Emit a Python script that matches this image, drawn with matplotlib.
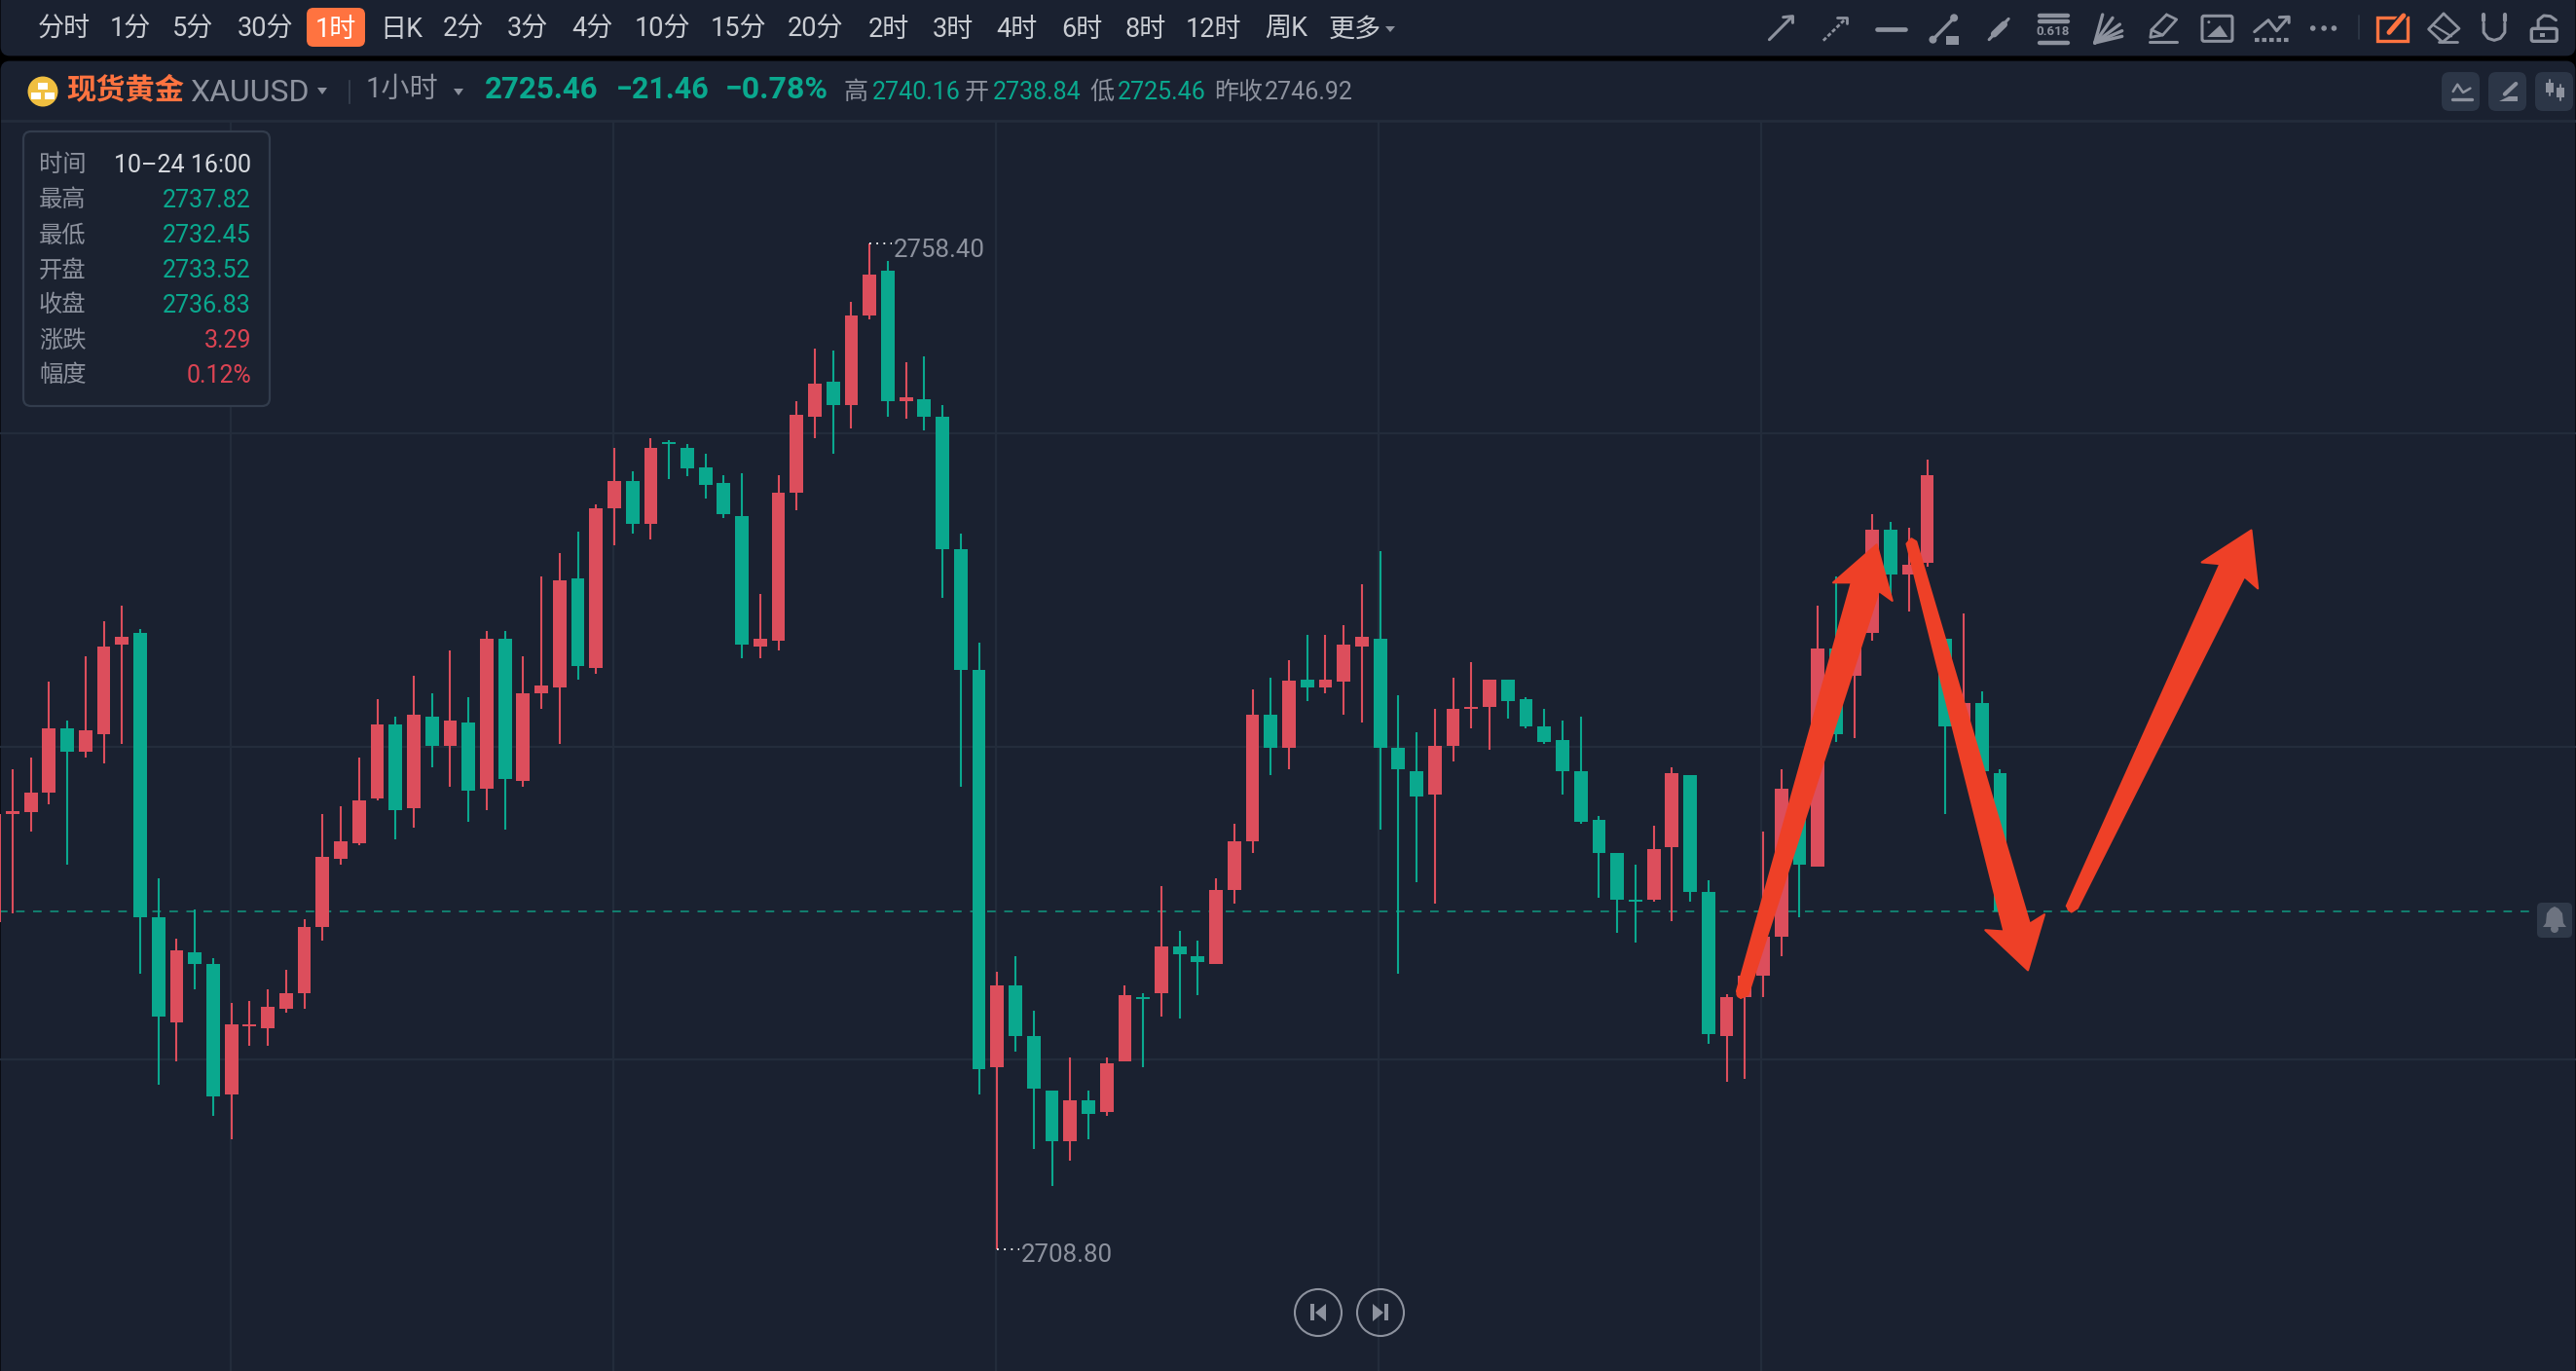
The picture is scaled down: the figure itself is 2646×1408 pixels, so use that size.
import matplotlib
matplotlib.use('Agg')
import matplotlib.pyplot as plt
from matplotlib.patches import Polygon, Circle, Rectangle, FancyBboxPatch

plt.rcParams['font.family'] = ['Roboto', 'Noto Sans CJK SC', 'DejaVu Sans']

# 小时K线数据
opens = [2724.92, 2730.27, 2730.36, 2731.31, 2734.48, 2733.34, 2734.20, 2738.62, 2739.17, 2725.17,
         2719.99, 2723.45, 2722.87, 2716.45, 2719.80, 2719.71, 2720.66, 2721.43, 2724.69, 2728.06,
         2728.82, 2731.03, 2734.69, 2730.55, 2735.06, 2733.62, 2734.78, 2731.50, 2738.89, 2731.89,
         2736.22, 2736.50, 2741.87, 2737.45, 2745.34, 2746.66, 2744.57, 2748.59, 2748.32, 2747.35,
         2746.58, 2744.94, 2738.52, 2738.80, 2746.10, 2749.83, 2751.56, 2750.40, 2754.84, 2757.02,
         2750.60, 2750.69, 2749.83, 2743.30, 2737.36, 2717.79, 2721.81, 2719.33, 2716.63, 2714.13,
         2716.15, 2715.57, 2718.08, 2721.23, 2721.42, 2723.73, 2723.25, 2722.87, 2726.53, 2728.91,
         2735.14, 2733.52, 2736.88, 2736.49, 2736.78, 2738.51, 2738.89, 2733.52, 2732.37, 2731.22,
         2733.62, 2735.44, 2735.53, 2736.88, 2735.92, 2734.58, 2733.90, 2732.37, 2729.97, 2728.34,
         2726.03, 2726.03, 2728.63, 2732.18, 2726.41, 2719.32, 2721.23, 2722.29, 2724.21, 2731.51,
         2727.66, 2738.42, 2737.07, 2739.19, 2744.26, 2742.06, 2742.64, 2738.90, 2733.80, 2735.73,
         2732.28]
highs = [2730.27, 2732.48, 2733.03, 2736.78, 2734.87, 2738.03, 2739.75, 2740.52, 2739.38, 2727.10,
         2724.13, 2725.57, 2723.15, 2720.94, 2721.06, 2721.62, 2722.59, 2725.08, 2730.27, 2730.64,
         2733.03, 2735.92, 2735.06, 2737.08, 2736.22, 2738.31, 2736.01, 2739.29, 2739.29, 2738.03,
         2741.96, 2743.13, 2744.17, 2745.52, 2748.29, 2747.15, 2748.78, 2748.69, 2748.51, 2748.03,
         2746.97, 2747.06, 2741.12, 2746.97, 2750.60, 2753.20, 2753.10, 2755.51, 2758.40, 2757.51,
         2752.53, 2752.81, 2750.40, 2744.07, 2738.71, 2722.48, 2723.25, 2720.55, 2716.63, 2718.27,
         2716.63, 2718.27, 2721.81, 2721.42, 2726.72, 2724.50, 2724.02, 2727.11, 2729.77, 2736.39,
         2736.97, 2737.82, 2739.09, 2739.09, 2739.58, 2741.58, 2743.21, 2736.11, 2734.29, 2735.44,
         2736.97, 2737.74, 2736.88, 2736.88, 2736.01, 2735.44, 2734.86, 2735.06, 2730.16, 2728.34,
         2727.76, 2729.68, 2732.56, 2732.18, 2726.99, 2721.36, 2722.29, 2729.39, 2732.47, 2732.13,
         2740.52, 2741.98, 2742.12, 2745.03, 2744.66, 2744.37, 2747.72, 2738.90, 2740.15, 2736.30,
         2732.47]
lows = [2724.92, 2725.38, 2729.41, 2730.73, 2727.75, 2733.03, 2732.75, 2733.71, 2722.38, 2716.92,
        2718.08, 2721.62, 2715.38, 2714.24, 2718.85, 2718.85, 2720.48, 2720.66, 2724.03, 2727.75,
        2728.73, 2730.94, 2729.01, 2729.59, 2732.57, 2731.59, 2729.87, 2730.45, 2729.50, 2731.59,
        2735.45, 2733.71, 2736.87, 2737.17, 2743.50, 2744.08, 2743.80, 2746.75, 2746.90, 2745.81,
        2744.85, 2737.94, 2737.94, 2738.32, 2745.23, 2748.80, 2748.03, 2749.25, 2754.65, 2749.83,
        2749.73, 2749.15, 2740.93, 2731.61, 2716.44, 2708.80, 2718.56, 2713.74, 2711.94, 2713.16,
        2714.22, 2715.38, 2718.08, 2717.79, 2720.26, 2720.20, 2721.32, 2722.87, 2725.85, 2728.33,
        2732.19, 2732.45, 2735.82, 2736.20, 2735.14, 2734.77, 2729.49, 2722.39, 2726.90, 2725.84,
        2732.85, 2734.48, 2733.42, 2734.96, 2734.48, 2733.71, 2731.22, 2729.78, 2726.13, 2724.40,
        2723.92, 2725.94, 2724.98, 2725.94, 2718.94, 2717.05, 2717.22, 2721.23, 2723.25, 2725.18,
        2727.66, 2733.80, 2734.01, 2738.79, 2741.08, 2740.25, 2742.45, 2730.26, 2733.38, 2732.36,
        2725.27]
closes = [2730.27, 2730.41, 2731.31, 2734.48, 2733.34, 2734.38, 2738.52, 2738.99, 2725.17, 2720.29,
          2723.55, 2722.87, 2716.34, 2719.89, 2719.89, 2720.75, 2721.43, 2724.69, 2728.15, 2728.92,
          2730.94, 2734.69, 2730.45, 2735.15, 2733.62, 2734.87, 2731.41, 2738.89, 2731.99, 2736.22,
          2736.59, 2741.78, 2737.55, 2745.34, 2746.66, 2744.57, 2748.29, 2748.50, 2747.29, 2746.48,
          2745.04, 2738.61, 2738.90, 2746.10, 2749.92, 2751.47, 2750.40, 2754.84, 2756.83, 2750.60,
          2750.79, 2749.83, 2743.30, 2737.36, 2717.69, 2721.81, 2719.33, 2716.73, 2714.13, 2716.15,
          2715.48, 2717.98, 2721.32, 2721.13, 2723.73, 2723.35, 2722.96, 2726.53, 2728.91, 2735.14,
          2733.53, 2736.83, 2736.49, 2736.88, 2738.61, 2738.99, 2733.52, 2732.46, 2731.12, 2733.62,
          2735.44, 2735.53, 2736.88, 2735.82, 2734.58, 2733.81, 2732.37, 2729.87, 2728.34, 2726.03,
          2725.94, 2728.53, 2732.27, 2726.42, 2719.42, 2721.23, 2722.29, 2724.21, 2731.51, 2727.76,
          2738.42, 2734.21, 2739.00, 2744.26, 2742.06, 2742.54, 2746.95, 2734.57, 2735.73, 2732.36,
          2725.46]

grid_prices = [2749.00, 2733.57, 2718.17]
grid_candles = [12.97, 33.95, 54.93, 75.91, 96.89]
last_price = 2725.46

periods = ['分时', '1分', '5分', '30分', '1时', '日K', '2分', '3分', '4分', '10分', '15分', '20分',
           '2时', '3时', '4时', '6时', '8时', '12时', '周K', '更多']
period_x = [66, 134, 198, 273, 345, 412, 476, 542, 608, 680, 758, 838,
            913, 979, 1045, 1111, 1177, 1247, 1321, 1392]

tip_labels = ['时间', '最高', '最低', '开盘', '收盘', '涨跌', '幅度']
tip_values = ['10–24 16:00', '2737.82', '2732.45', '2733.52', '2736.83', '3.29', '0.12%']

W, H = 2646, 1408
BG = '#1a2130'
GRID = '#232c3b'
RED = '#dc4e5c'
GREEN = '#0aa88e'
GRAY = '#8d929e'
ORANGE = '#ff7340'
ARROW = '#ee4027'

fig = plt.figure(figsize=(W / 100, H / 100), dpi=100, facecolor='black')

def pixel_axes(zorder):
    a = fig.add_axes([0, 0, 1, 1], zorder=zorder)
    a.set_xlim(0, W)
    a.set_ylim(H, 0)
    a.axis('off')
    a.patch.set_alpha(0)
    return a

ui = pixel_axes(1)
top = pixel_axes(3)

# 背景面板
ui.add_patch(FancyBboxPatch((2, -20), W - 4, 76, boxstyle='round,pad=0,rounding_size=8', fc=BG, ec=BG, lw=2))
ui.add_patch(FancyBboxPatch((2, 64), W - 4, H, boxstyle='round,pad=0,rounding_size=8', fc=BG, ec=BG, lw=2))
ui.plot([2, W], [124, 124], color=GRID, lw=2)

# ========== K线 ==========
chart_top = 125
ax = fig.add_axes([0, 0, 1, (H - chart_top) / H], zorder=2)
ax.patch.set_alpha(0)
ax.axis('off')
ax.set_xlim(5.83 / 18.73, (W + 5.83) / 18.73)
ax.set_ylim(2725.46 + (936 - H) / 20.84, 2725.46 + (936 - chart_top) / 20.84)

for p in grid_prices:
    ax.axhline(p, color=GRID, lw=1.6, zorder=1)
for c in grid_candles:
    ax.axvline(c, color=GRID, lw=1.6, zorder=1)
ax.plot([0, 141], [last_price, last_price], color='#12806f', lw=1.4, dashes=(4.5, 4.5), zorder=1.5)

idx = list(range(len(opens)))
colors = [GREEN if closes[i] < opens[i] else RED for i in idx]
ax.vlines(idx, lows, highs, colors=colors, lw=1.5, zorder=2)
ax.bar(idx, [abs(closes[i] - opens[i]) for i in idx], bottom=[min(opens[i], closes[i]) for i in idx],
       width=0.737, color=colors, lw=0, zorder=3)

# 最高最低标注
ax.plot([48, 49.2], [2758.40, 2758.40], color='white', lw=1.3, dashes=(1, 3), zorder=4)
ax.text(49.34, 2758.03, '2758.40', color=GRAY, fontsize=18.6, va='center', ha='left')
ax.plot([55, 56.2], [2708.80, 2708.80], color='white', lw=1.3, dashes=(1, 3), zorder=4)
ax.text(56.3, 2708.50, '2708.80', color=GRAY, fontsize=18.6, va='center', ha='left')

# ========== 顶部工具栏 ==========
ui.add_patch(FancyBboxPatch((315, 8), 60, 40, boxstyle='round,pad=0,rounding_size=7', fc=ORANGE, ec='none'))
for label, x in zip(periods, period_x):
    c = 'white' if label == '1时' else '#c9ccd2'
    ui.text(x, 30, label, color=c, fontsize=19.5, ha='center', va='center')
ui.add_patch(Polygon([(1423, 27), (1433, 27), (1428, 33)], fc=GRAY, ec='none'))

# ========== 行情标题 ==========
ui.add_patch(Circle((44, 94), 15.5, fc='#f0bf40', ec='none'))
for (bx, by) in [(44, 88), (37, 98), (51, 98)]:
    ui.add_patch(Rectangle((bx - 5, by - 3.5), 10, 7, fc='white', ec='none'))
ui.text(68, 93, '现货黄金', color=ORANGE, fontsize=21.8, weight='bold', ha='left', va='center')
ui.text(195, 95, 'XAUUSD', color=GRAY, fontsize=23, ha='left', va='center')
ui.add_patch(Polygon([(326, 90), (336, 90), (331, 97)], fc=GRAY, ec='none'))
ui.plot([359, 359], [83, 106], color='#3a4352', lw=1.2)
ui.text(376, 92, '1小时', color=GRAY, fontsize=21, ha='left', va='center')
ui.add_patch(Polygon([(466, 91), (476, 91), (471, 98)], fc=GRAY, ec='none'))
ui.text(498, 92, '2725.46', color=GREEN, fontsize=22.5, weight='bold', ha='left', va='center')
ui.text(633, 92, '−21.46', color=GREEN, fontsize=22, weight='bold', ha='left', va='center')
ui.text(745, 92, '−0.78%', color=GREEN, fontsize=23, weight='bold', ha='left', va='center')
for x, t, c in [(867, '高', GRAY), (896, '2740.16', GREEN), (991, '开', GRAY), (1020, '2738.84', GREEN),
                (1119, '低', GRAY), (1148, '2725.46', GREEN), (1247, '昨收', GRAY), (1299, '2746.92', GRAY)]:
    ui.text(x, 95, t, color=c, fontsize=18, ha='left', va='center')

# ========== 工具图标 ==========
def z2(x, y):
    return 1750 + x / 1.75, y / 3

def line(pts, color=GRAY, lw=2.2, **kw):
    xy = [z2(*p) for p in pts]
    top.plot([q[0] for q in xy], [q[1] for q in xy], color=color, lw=lw, solid_capstyle='round', **kw)

line([(118, 122), (158, 53)])
line([(143, 53), (160, 50), (160, 70)])
line([(215, 125), (255, 58)], lw=2, linestyle=(0, (1.5, 0.8)))
line([(240, 54), (258, 54), (258, 72)], lw=2)
line([(312, 90), (362, 90)], lw=3.4)
line([(412, 122), (450, 55)], lw=2.4)
top.add_patch(Circle(z2(450, 55), 4, fc=GRAY, ec='none'))
top.add_patch(Circle(z2(412, 122), 4, fc=GRAY, ec='none'))
top.add_patch(Rectangle(z2(435, 112), 13, 8.5, fc=GRAY, ec='none'))
line([(513, 122), (548, 58)], lw=2.2)
line([(522, 105), (540, 75)], lw=5)
for y in [47, 65, 131]:
    line([(603, y), (654, y)], lw=3.2)
top.text(*z2(628, 98), '0.618', color=GRAY, fontsize=9.5, weight='bold', ha='center', va='center')
for p in [(717, 45), (735, 55), (748, 75), (752, 95), (752, 112)]:
    line([(703, 132), p], lw=2.4)
line([(832, 45), (850, 60), (825, 108), (805, 92), (832, 45)], lw=2)
line([(805, 92), (803, 115), (825, 108)], lw=2)
line([(802, 130), (850, 130)], lw=2.2)
top.add_patch(FancyBboxPatch(z2(896, 49), 31, 26, boxstyle='round,pad=0,rounding_size=2', fc='none', ec=GRAY, lw=2.2))
top.add_patch(Polygon([z2(905, 114), z2(928, 78), z2(942, 114)], fc=GRAY, ec='none'))
top.add_patch(Circle(z2(908, 68), 1.5, fc=GRAY, ec='none'))
line([(990, 98), (1015, 62), (1030, 95), (1050, 55)], lw=2.2)
line([(1035, 53), (1052, 52), (1052, 70)], lw=2.2)
line([(990, 124), (1052, 124)], lw=3, linestyle=(0, (1.1, 0.7)))
for x in [1095, 1115, 1133]:
    top.add_patch(Circle(z2(x, 87), 2.8, fc=GRAY, ec='none'))
line([(1177, 48), (1177, 120)], color='#2f3848', lw=1.2)
top.add_patch(Rectangle(z2(1211, 55), 31, 24, fc='none', ec=ORANGE, lw=2.4))
line([(1232, 100), (1258, 48)], color=BG, lw=6)
line([(1232, 100), (1258, 48)], color=ORANGE, lw=3.6)
line([(1330, 42), (1358, 88), (1328, 130), (1303, 90), (1330, 42)], lw=2)
line([(1312, 78), (1344, 112)], lw=1.6)
line([(1322, 130), (1355, 130)], lw=2)
line([(1402, 45), (1402, 62)], lw=3)
line([(1440, 45), (1440, 62)], lw=3)
line([(1402, 72), (1402, 100), (1410, 118), (1421, 124), (1432, 118), (1440, 100), (1440, 72)], lw=2.2)
top.add_patch(FancyBboxPatch(z2(1488, 88), 26, 13, boxstyle='round,pad=0,rounding_size=2', fc='none', ec=GRAY, lw=2.4))
line([(1500, 85), (1500, 62), (1510, 48), (1522, 50), (1532, 62)], lw=2.2)
top.add_patch(Rectangle(z2(1504, 102), 5, 4, fc=GRAY, ec='none'))

# 右上三个按钮
for bx in [2508, 2556, 2604]:
    top.add_patch(FancyBboxPatch((bx, 74), 39, 40, boxstyle='round,pad=0,rounding_size=8', fc='#2c3647', ec='none'))
line([(1347, 282), (1355, 260), (1365, 285), (1378, 272)], lw=1.8)
line([(1345, 307), (1380, 307)], lw=2.4)
top.add_patch(Polygon([z2(1430, 311), z2(1463, 311), z2(1463, 296), z2(1447, 296)], fc=GRAY, ec='none'))
line([(1440, 290), (1460, 258)], lw=3)
for cx, cy in [(1520, 270), (1540, 285)]:
    line([(cx, cy - 25), (cx, cy + 25)], lw=1.4)
    top.add_patch(Rectangle(z2(cx - 7, cy - 15), 8, 10, fc=GRAY, ec='none'))

# ========== 数据浮窗 ==========
top.add_patch(FancyBboxPatch((24, 135), 253, 282, boxstyle='round,pad=0,rounding_size=8', fc='#1b2230', ec='#323c4c', lw=1.6))
ys = [170, 206, 242, 278, 314, 350, 386]
for i, y in enumerate(ys):
    top.text(40, y, tip_labels[i], color=GRAY, fontsize=17.5, ha='left', va='center')
    if i == 0:
        vc = '#d7dadf'
    elif i < 5:
        vc = GREEN
    else:
        vc = '#dc4453'
    top.text(258, y, tip_values[i], color=vc, fontsize=18, ha='right', va='center')

# ========== 手绘箭头 ==========
def z6(pts):
    return [(1700 + x / 2.24, 450 + y / 2.306) for x, y in pts]

shapes = [
    [(188, 1310), (452, 342), (410, 342), (510, 252), (546, 385), (515, 362), (214, 1318), (197, 1326)],
    [(579, 250), (590, 238), (601, 245), (862, 1150), (896, 1128), (858, 1260), (760, 1165), (803, 1168)],
    [(947, 1108), (1300, 298), (1258, 294), (1372, 218), (1387, 356), (1356, 328), (972, 1113), (958, 1122)],
]
for s in shapes:
    top.add_patch(Polygon(z6(s), closed=True, fc=ARROW, ec=ARROW, lw=1.5, joinstyle='round'))
for p in [(197, 1316), (590, 250), (958, 1112)]:
    top.add_patch(Circle(z6([p])[0], 4.6, fc=ARROW, ec='none'))

# ========== 翻页按钮和提醒 ==========
for cx in [1354, 1418]:
    top.add_patch(Circle((cx, 1348), 24, fc='none', ec=GRAY, lw=1.5))
top.add_patch(Rectangle((1346, 1339), 4, 17, fc=GRAY, ec='none'))
top.add_patch(Polygon([(1351, 1348), (1362, 1339), (1362, 1357)], fc=GRAY, ec='none'))
top.add_patch(Rectangle((1422, 1339), 4, 17, fc=GRAY, ec='none'))
top.add_patch(Polygon([(1421, 1348), (1410, 1339), (1410, 1357)], fc=GRAY, ec='none'))

top.add_patch(FancyBboxPatch((2606, 927), 36, 36, boxstyle='round,pad=0,rounding_size=5', fc='#2f3949', ec='none'))
top.add_patch(Polygon([(2612, 952), (2615, 948), (2616, 938), (2620, 933), (2624, 931), (2628, 933), (2632, 938), (2633, 948), (2636, 952)],
                      fc='#6d7380', ec='none'))
top.add_patch(Circle((2624, 954), 4, fc='#6d7380', ec='none'))

fig.savefig('out.png', dpi=100, facecolor='black')
